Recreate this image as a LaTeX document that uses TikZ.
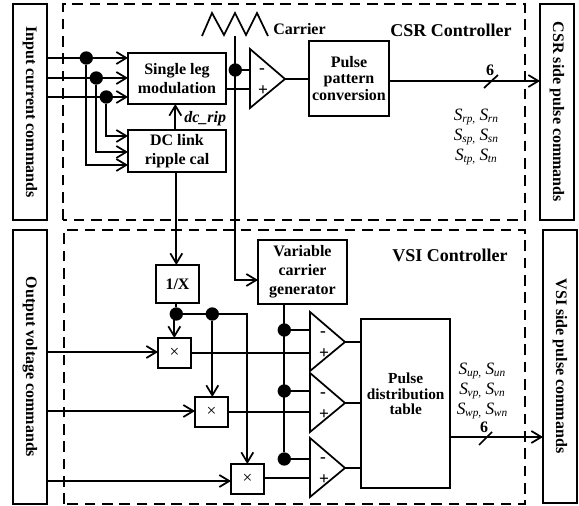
\documentclass[tikz,border=0pt]{standalone}
\usepackage{fontspec}
\setmainfont{Liberation Serif}
\usetikzlibrary{arrows.meta}
\newcommand{\Sb}[1]{\textit{\fontsize{13}{15}\selectfont S\kern-0.2pt\raisebox{-0.35ex}{\fontsize{8.5}{9}\selectfont #1}}}
\newcommand{\bx}[7][]{\node[boxn,#1,minimum width={(#4-#2)*0.75pt},minimum height={(#5-#3)*0.75pt}] (#7) at ({(#2+#4)/2},{(#3+#5)/2}) {#6};}
\newcommand{\cmp}[4]{%
  \coordinate (#1a) at (310,#2); \coordinate (#1b) at (310,#3); \coordinate (#1t) at (345,#4);
  \draw[ln] (#1a) -- (#1b) -- (#1t) -- cycle;}
\tikzset{
  ln/.style={line width=1.3pt},
  arr/.style={ln,-{Straight Barb[length=7.5pt,width=9pt,line width=1.3pt]}},
  boxn/.style={draw,line width=1.3pt,inner sep=0pt,outer sep=0pt,align=center,font=\fontsize{12}{14.25}\selectfont\bfseries},
  tight/.style={font=\fontsize{12}{12.2}\selectfont\bfseries},
  dotn/.style={circle,fill=black,draw=none,minimum size=10pt,inner sep=0pt,outer sep=0pt},
  zone/.style={line width=1.1pt,dash pattern=on 8pt off 5pt},
  lab/.style={inner sep=0pt,font=\fontsize{12}{13}\selectfont\bfseries},
  title/.style={inner sep=0pt,font=\fontsize{13.5}{15}\selectfont\bfseries},
  slab/.style={inner sep=0pt,align=center,font=\fontsize{13}{15}\selectfont},
  sgn/.style={inner sep=0pt,font=\fontsize{13}{14}\selectfont\bfseries},
  multn/.style={font=\fontsize{13}{14}\selectfont}
}
\begin{document}
\begin{tikzpicture}[x=0.75pt,y=-0.75pt]
\useasboundingbox (0,0) rectangle (579,506);
% zones
\draw[zone] (63,220) -- (63,4) -- (525,4) -- (525,220) -- cycle;
\draw[zone] (64,504) -- (64,230) -- (525,230) -- (525,504) -- cycle;
% side boxes
\bx{13}{4}{47}{220}{}{ic}
\bx{540}{4}{574}{220}{}{cp}
\bx{13}{230}{47}{504}{}{ov}
\bx{543}{230}{577}{503}{}{vp}
\node[lab,rotate=-90] (ict) at (30,112) {Input current commands};
\node[lab,rotate=-90] (cpt) at (557,112) {CSR side pulse commands};
\node[lab,rotate=-90] (ovt) at (30,367) {Output voltage commands};
\node[lab,rotate=-90] (vpt) at (560,366) {VSI side pulse commands};
% blocks
\bx{128}{53}{226}{104}{Single leg\\modulation}{sl}
\bx{128}{130}{226}{172}{DC link\\ripple cal}{dc}
\bx[tight]{309}{41}{389}{116}{Pulse\\pattern\\conversion}{pp}
\bx{156}{265}{199}{303}{1/X}{inv}
\bx{258}{240}{347}{304}{Variable\\carrier\\generator}{vc}
\bx{361}{319}{450}{488}{}{pd}
\node[lab,align=center,font=\fontsize{11.5}{11.5}\selectfont\bfseries] (pdt) at (405.7,394) {Pulse\\distribution\\table};
\bx[multn]{158}{338}{191}{368}{×}{m1}
\bx[multn]{195}{397}{228}{427}{×}{m2}
\bx[multn]{231}{464}{264}{494}{×}{m3}
% titles & labels
\node[title] (t1) at (451,30) {CSR Controller};
\node[title] (t2) at (450,255) {VSI Controller};
\node[lab,anchor=west] (carl) at (273,29) {Carrier};
\node[lab,anchor=west] (dcr) at (184,119) {\textit{dc\_rip}};
\node[slab] (s1) at (476,137) {\Sb{rp,} \Sb{rn}\\\Sb{sp,} \Sb{sn}\\\Sb{tp,} \Sb{tn}};
\node[slab] (s2) at (482,391) {\Sb{up,} \Sb{un}\\\Sb{vp,} \Sb{vn}\\\Sb{wp,} \Sb{wn}};
\node[lab] (n1) at (490,70) {6};
\node[lab] (n2) at (484,427) {6};
% comparators
\coordinate (c0a) at (250,49); \coordinate (c0b) at (250,108); \coordinate (c0t) at (285,79);
\draw[ln] (c0a) -- (c0b) -- (c0t) -- cycle;
\cmp{c1}{312}{371}{342}
\cmp{c2}{373}{432}{403}
\cmp{c3}{438}{497}{468}
\node[sgn] (c0m) at (262,71) {-};
\node[sgn] (c0p) at (263,91) {+};
\node[sgn] (c1m) at (323,334) {-};
\node[sgn] (c1p) at (324,354) {+};
\node[sgn] (c2m) at (323,395) {-};
\node[sgn] (c2p) at (324,415) {+};
\node[sgn] (c3m) at (323,460) {-};
\node[sgn] (c3p) at (324,480) {+};
% dots
\node[dotn] (d1) at (86.3,58) {};
\node[dotn] (d2) at (96.3,78) {};
\node[dotn] (d3) at (106.3,97) {};
\node[dotn] (d4) at (235.3,70) {};
\node[dotn] (d5) at (176.3,314) {};
\node[dotn] (d6) at (212.3,314) {};
\node[dotn] (d7) at (284.3,330) {};
\node[dotn] (d8) at (284.3,391) {};
\node[dotn] (d9) at (284.3,459) {};
% input current
\draw[arr] (ic.east |- d1) -- (sl.west |- d1);
\draw[arr] (ic.east |- d2) -- (sl.west |- d2);
\draw[arr] (ic.east |- d3) -- (sl.west |- d3);
\coordinate (r1) at (128,165); \coordinate (r2) at (128,152); \coordinate (r3) at (128,136);
\draw[arr] (d1) |- (r1);
\draw[arr] (d2) |- (r2);
\draw[arr] (d3) |- (r3);
\coordinate (dcx) at (175.3,0);
\draw[arr] (dc.north -| dcx) -- (sl.south -| dcx);
\draw[arr] (dc.south -| d5) -- (inv.north -| d5);
% carrier
\coordinate (w0) at (202,36);
\draw[ln] (w0) -- (212,13) -- (224,35) -- (235,13) -- (246,35) -- (257,13) -- (268,36);
\coordinate (cv) at (235.3,36);
\draw[arr] (cv) |- (vc.west |- 0,280);
\draw[ln] (d4) -- (c0a |- d4);
\draw[ln] (sl.east |- 0,89) -- (c0a |- 0,89);
\draw[ln] (c0t) -- (pp.west |- c0t);
\draw[arr] (pp.east |- 0,81) -- (cp.west |- 0,81);
\coordinate (sa) at (484,88); \coordinate (sb) at (498,75);
\draw[ln] (sa) -- (sb);
% VSI
\draw[ln] (d5) -- (inv.south -| d5);
\coordinate (m1x) at (174.3,0);
\draw[arr] (d5 -| m1x) -- (m1.north -| m1x);
\draw[ln] (d5) -- (d6);
\draw[arr] (d6) -- (m2.north -| d6);
\coordinate (m3x) at (247.3,314);
\draw[arr] (d6) -- (m3x) -- (m3.north -| m3x);
\draw[arr] (ov.east |- 0,352) -- (m1.west |- 0,352);
\draw[arr] (ov.east |- 0,411) -- (m2.west |- 0,411);
\draw[arr] (ov.east |- 0,481) -- (m3.west |- 0,481);
\draw[ln] (m1.east |- 0,353) -- (c1a |- 0,353);
\draw[ln] (m2.east |- 0,412) -- (c2a |- 0,412);
\draw[ln] (m3.east |- 0,478) -- (c3a |- 0,478);
\draw[ln] (vc.south -| d7) -- (d9);
\draw[ln] (d7) -- (c1a |- d7);
\draw[ln] (d8) -- (c2a |- d8);
\draw[ln] (d9) -- (c3a |- d9);
\draw[ln] (c1t) -- (pd.west |- c1t);
\draw[ln] (c2t) -- (pd.west |- c2t);
\draw[ln] (c3t) -- (pd.west |- c3t);
\draw[arr] (pd.east |- 0,437) -- (vp.west |- 0,437);
\coordinate (sc) at (479,445); \coordinate (sd) at (492,432);
\draw[ln] (sc) -- (sd);
\end{tikzpicture}
\end{document}
